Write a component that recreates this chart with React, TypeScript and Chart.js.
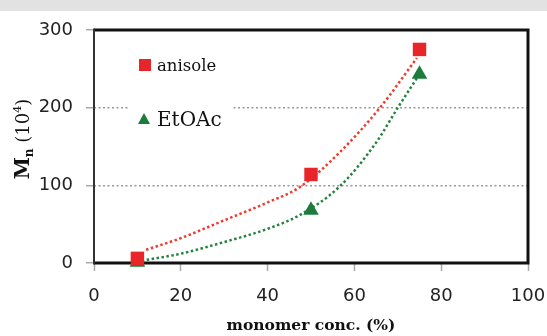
import { useEffect, useRef } from 'react';
import { Chart, registerables } from 'chart.js';

Chart.register(...registerables);

// ---- data ----
const seriesNames = ['anisole', 'EtOAc'];
const monomerConc = [10, 50, 75];
const anisoleMn = [6, 114, 275];
const etoacMn = [1, 68, 243];
// dotted trend curves
const anisoleTrendX = [12, 20, 30, 40, 47.5, 56.7, 65.9, 74.4];
const anisoleTrendY = [17, 32, 55, 78, 98, 143, 200, 264];
const etoacTrendX = [11, 20, 30, 40, 47.5, 56.7, 65, 70, 74.4];
const etoacTrendY = [3, 12, 27, 44, 62, 99, 155, 200, 238];
const xTickValues = [0, 20, 40, 60, 80, 100];
const yTickValues = [0, 100, 200, 300];
const xTitle = 'monomer conc. (%)';

const RED = '#e8262a';
const GREEN = '#1b7c3c';
const RED_LINE = '#ef3b2e';
const GREEN_LINE = '#23843f';

const pts = (xs: number[], ys: number[]) => xs.map((x, i) => ({ x, y: ys[i] }));

const frame = {
  id: 'frame',
  beforeDatasetsDraw(chart: any) {
    const { ctx, chartArea: a } = chart;
    ctx.save();
    ctx.strokeStyle = '#111';
    ctx.lineWidth = 3;
    ctx.beginPath();
    ctx.moveTo(a.left, a.top);
    ctx.lineTo(a.right, a.top);
    ctx.lineTo(a.right, a.bottom);
    ctx.lineTo(a.left, a.bottom);
    ctx.stroke();
    ctx.strokeStyle = '#333';
    ctx.lineWidth = 2;
    ctx.beginPath();
    ctx.moveTo(a.left, a.top - 1.5);
    ctx.lineTo(a.left, a.bottom + 1.5);
    ctx.stroke();
    ctx.restore();
  },
};

const legendBox = {
  id: 'legendBox',
  afterDraw(chart: any) {
    const { ctx } = chart;
    ctx.save();
    ctx.fillStyle = '#fff';
    ctx.fillRect(129, 45, 102, 90);
    const markers = chart.data.datasets.filter((d: any) => d.isMarker);
    const rows = [
      { y: 65, font: '16.5px "DejaVu Serif"', base: 71 },
      { y: 119, font: '20px "DejaVu Serif"', base: 126 },
    ];
    markers.forEach((d: any, i: number) => {
      const r = rows[i];
      ctx.fillStyle = d.backgroundColor;
      if (d.pointStyle === 'rect') {
        ctx.fillRect(139, r.y - 6, 12, 12);
      } else {
        ctx.beginPath();
        ctx.moveTo(144, r.y - 6);
        ctx.lineTo(150, r.y + 5);
        ctx.lineTo(138, r.y + 5);
        ctx.closePath();
        ctx.fill();
      }
      ctx.fillStyle = '#111';
      ctx.font = r.font;
      ctx.textBaseline = 'alphabetic';
      ctx.textAlign = 'left';
      ctx.fillText(d.label, 157, r.base);
    });
    ctx.restore();
  },
};

const yTitle = {
  id: 'yTitle',
  afterDraw(chart: any) {
    const { ctx } = chart;
    const parts = [
      { t: 'M', f: 'bold 20px "DejaVu Serif"', dy: 0 },
      { t: 'n', f: 'bold 12px "DejaVu Serif"', dy: 4 },
      { t: ' (10', f: '18px "DejaVu Serif"', dy: 0 },
      { t: '4', f: '11px "DejaVu Serif"', dy: -8 },
      { t: ')', f: '18px "DejaVu Serif"', dy: 0 },
    ];
    ctx.save();
    let total = 0;
    const widths = parts.map((p) => {
      ctx.font = p.f;
      const w = ctx.measureText(p.t).width;
      total += w;
      return w;
    });
    ctx.translate(29, 139);
    ctx.rotate(-Math.PI / 2);
    ctx.fillStyle = '#111';
    ctx.textBaseline = 'alphabetic';
    ctx.textAlign = 'left';
    let x = -total / 2;
    parts.forEach((p, i) => {
      ctx.font = p.f;
      ctx.fillText(p.t, x, p.dy);
      x += widths[i];
    });
    ctx.restore();
  },
};

export default function App() {
  const ref = useRef<HTMLCanvasElement | null>(null);
  useEffect(() => {
    document.body.style.margin = '0';
    const chart = new Chart(ref.current!, {
      type: 'scatter',
      data: {
        datasets: [
          {
            label: seriesNames[0],
            isMarker: true,
            data: pts(monomerConc, anisoleMn),
            pointStyle: 'rect',
            pointRadius: 9.5,
            backgroundColor: RED,
            borderColor: RED,
            borderWidth: 0,
            showLine: false,
            order: 0,
            clip: false,
          } as any,
          {
            label: seriesNames[1],
            isMarker: true,
            data: pts(monomerConc, etoacMn),
            pointStyle: 'triangle',
            pointRadius: 9,
            backgroundColor: GREEN,
            borderColor: GREEN,
            borderWidth: 0,
            showLine: false,
            order: 0,
            clip: false,
          } as any,
          {
            label: seriesNames[0] + ' trend',
            data: pts(anisoleTrendX, anisoleTrendY),
            showLine: true,
            pointRadius: 0,
            borderColor: RED_LINE,
            borderWidth: 2.5,
            borderDash: [2.5, 2.5],
            cubicInterpolationMode: 'monotone',
            order: 1,
          } as any,
          {
            label: seriesNames[1] + ' trend',
            data: pts(etoacTrendX, etoacTrendY),
            showLine: true,
            pointRadius: 0,
            borderColor: GREEN_LINE,
            borderWidth: 2.5,
            borderDash: [2.5, 2.5],
            cubicInterpolationMode: 'monotone',
            order: 1,
          } as any,
        ],
      },
      options: {
        animation: false,
        responsive: false,
        layout: { padding: { left: 0, top: 30, right: 19, bottom: 0 } },
        plugins: { legend: { display: false }, tooltip: { enabled: false } },
        scales: {
          x: {
            type: 'linear',
            min: 0,
            max: 100,
            afterFit: (s: any) => { s.height = 73; s.paddingRight = 0; s.paddingLeft = 0; },
            afterBuildTicks: (s: any) => { s.ticks = xTickValues.map((v) => ({ value: v })); },
            border: { display: false },
            grid: {
              drawOnChartArea: false,
              drawTicks: true,
              tickLength: 8,
              tickColor: '#aaa',
              tickWidth: 1.5,
            },
            ticks: {
              color: '#222',
              font: { family: '"DejaVu Sans"', size: 18 },
              padding: 15,
              maxRotation: 0,
            },
            title: {
              display: true,
              text: xTitle,
              color: '#111',
              font: { family: '"DejaVu Serif"', size: 15.5, weight: 'bold' },
              padding: { top: 0, bottom: 1 },
            },
          },
          y: {
            min: 0,
            max: 300,
            afterFit: (s: any) => { s.width = 94; },
            afterBuildTicks: (s: any) => { s.ticks = yTickValues.map((v) => ({ value: v })); },
            border: { display: false, dash: [2, 2.5] },
            grid: {
              color: '#9a9a9a',
              lineWidth: 1.5,
              tickBorderDash: [],
              tickColor: '#aaa',
              tickWidth: 1.5,
              tickLength: 8,
            },
            ticks: {
              color: '#222',
              font: { family: '"DejaVu Sans"', size: 18 },
              padding: 13,
            },
          },
        },
      },
      plugins: [frame, legendBox, yTitle],
    });
    return () => chart.destroy();
  }, []);
  return (
    <div style={{ position: 'relative', width: 547, height: 336, background: '#fff' }}>
      <div style={{ position: 'absolute', left: 0, top: 0, width: 547, height: 11, background: '#e2e2e2' }} />
      <canvas ref={ref} width={547} height={336} style={{ display: 'block' }} />
    </div>
  );
}
